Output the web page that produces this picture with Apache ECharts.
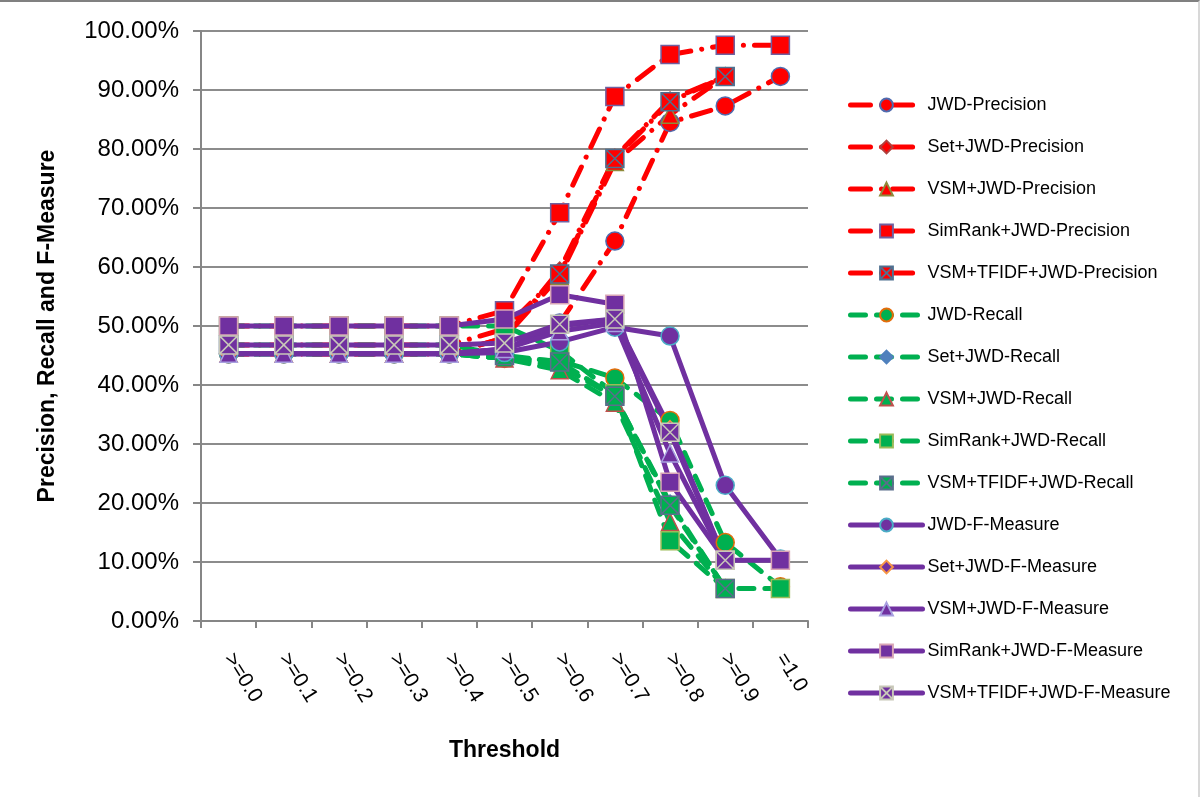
<!DOCTYPE html>
<html><head><meta charset="utf-8">
<script src="https://cdn.jsdelivr.net/npm/echarts@6/dist/echarts.min.js"></script>
<style>
html,body{margin:0;padding:0;background:#fff;}
#c{width:1200px;height:797px;box-sizing:border-box;border-top:2px solid #808080;border-right:2px solid #d8d8d8;}
</style></head>
<body><div id="c"></div>
<script>
var categories = ['>=0.0','>=0.1','>=0.2','>=0.3','>=0.4','>=0.5','>=0.6','>=0.7','>=0.8','>=0.9','=1.0'];
var yTicks = [0,10,20,30,40,50,60,70,80,90,100];

var jwdPrecision     = [45.3,45.3,45.3,45.3,45.3,46.0,50.5,64.4,84.5,87.3,92.3];
var setPrecision     = [45.3,45.3,45.3,45.3,45.3,48.0,59.5,78.6,88.3,92.3,null];
var vsmPrecision     = [45.3,45.3,45.3,45.3,45.3,48.0,58.5,77.8,85.8,92.3,null];
var simrankPrecision = [50.0,50.0,50.0,50.0,50.0,52.6,69.2,88.9,96.0,97.6,97.6];
var tfidfPrecision   = [46.8,46.8,46.8,46.8,46.8,49.5,58.8,78.4,88.0,92.3,null];

var jwdRecall     = [45.3,45.3,45.3,45.3,45.3,44.5,44.1,41.2,34.0,13.3,5.8];
var setRecall     = [45.3,45.3,45.3,45.3,45.3,44.5,43.3,38.0,20.0,5.5,null];
var vsmRecall     = [45.3,45.3,45.3,45.3,45.3,44.5,42.5,37.0,16.8,5.5,null];
var simrankRecall = [50.0,50.0,50.0,50.0,50.0,50.0,45.8,38.5,13.6,5.5,5.5];
var tfidfRecall   = [46.8,46.8,46.8,46.8,46.8,45.0,43.9,38.1,19.6,5.5,null];

var jwdF     = [45.3,45.3,45.3,45.3,45.3,45.5,47.3,49.8,48.3,23.0,10.5];
var setF     = [45.3,45.3,45.3,45.3,45.3,46.1,50.0,51.2,32.6,10.3,null];
var vsmF     = [45.3,45.3,45.3,45.3,45.3,46.1,49.1,50.5,28.4,10.3,null];
var simrankF = [50.0,50.0,50.0,50.0,50.0,51.2,55.3,53.7,23.5,10.3,10.3];
var tfidfF   = [46.8,46.8,46.8,46.8,46.8,47.1,50.3,51.2,32.0,10.3,null];

var FONT = '"Liberation Sans", Arial, sans-serif';
var RED = '#FF0000', GREEN = '#00B050', PURPLE = '#7030A0';
var XSYM = 'path://M0,0 L10,0 L10,10 L0,10 Z M0,0 L10,10 M10,0 L0,10';

function mk(name, data, color, dash, symbol, fill, border, size) {
  return {
    name: name, type: 'line', data: data,
    symbol: symbol, symbolSize: size || 18,
    lineStyle: {color: color, width: 5, type: dash, cap: 'round', join: 'round'},
    itemStyle: {color: fill, borderColor: border, borderWidth: 1.5},
    emphasis: {disabled: true}
  };
}
var DASHDOT = [20, 11, 0.1, 11];
var DASH = [15, 11];

var series = [
  mk('JWD-Precision', jwdPrecision, RED, DASHDOT, 'circle', RED, '#4F6BAF'),
  mk('Set+JWD-Precision', setPrecision, RED, DASHDOT, 'diamond', RED, '#B0403D', 16),
  mk('VSM+JWD-Precision', vsmPrecision, RED, DASHDOT, 'triangle', RED, '#8F8A3A', 17),
  mk('SimRank+JWD-Precision', simrankPrecision, RED, DASHDOT, 'rect', RED, '#7060A0'),
  mk('VSM+TFIDF+JWD-Precision', tfidfPrecision, RED, DASHDOT, XSYM, RED, '#4F7090'),
  mk('JWD-Recall', jwdRecall, GREEN, DASH, 'circle', GREEN, '#E46C0A'),
  mk('Set+JWD-Recall', setRecall, GREEN, DASH, 'diamond', '#4F81BD', '#4F81BD', 16),
  mk('VSM+JWD-Recall', vsmRecall, GREEN, DASH, 'triangle', GREEN, '#C0504D', 17),
  mk('SimRank+JWD-Recall', simrankRecall, GREEN, DASH, 'rect', GREEN, '#9BBB59'),
  mk('VSM+TFIDF+JWD-Recall', tfidfRecall, GREEN, DASH, XSYM, GREEN, '#5A6E8C'),
  mk('JWD-F-Measure', jwdF, PURPLE, 'solid', 'circle', PURPLE, '#4BACC6'),
  mk('Set+JWD-F-Measure', setF, PURPLE, 'solid', 'diamond', PURPLE, '#F79646', 16),
  mk('VSM+JWD-F-Measure', vsmF, PURPLE, 'solid', 'triangle', PURPLE, '#A8A0E0', 17),
  mk('SimRank+JWD-F-Measure', simrankF, PURPLE, 'solid', 'rect', PURPLE, '#D9A5B5'),
  mk('VSM+TFIDF+JWD-F-Measure', tfidfF, PURPLE, 'solid', XSYM, PURPLE, '#C8C8B8')
];

var chart = echarts.init(document.getElementById('c'), null, {renderer: 'canvas'});
chart.setOption({
  animation: false,
  backgroundColor: '#fff',
  grid: {left: 201, right: 390, top: 29, bottom: 176},
  legend: {
    orient: 'vertical', left: 843, top: 88,
    itemWidth: 72, itemHeight: 16, itemGap: 22,
    lineStyle: {width: 5},
    textStyle: {fontFamily: FONT, fontSize: 18, color: '#000', lineHeight: 20},
    data: series.map(function (s) { return s.name; })
  },
  xAxis: {
    type: 'category', data: categories, boundaryGap: true,
    name: 'Threshold', nameLocation: 'middle', nameGap: 118,
    nameTextStyle: {fontFamily: FONT, fontSize: 23, fontWeight: 'bold', color: '#000'},
    axisLine: {lineStyle: {color: '#868686', width: 2}},
    axisTick: {show: true, length: 7, alignWithLabel: false, lineStyle: {color: '#868686', width: 2}},
    axisLabel: {rotate: -58, margin: 34, fontFamily: FONT, fontSize: 21, color: '#000', interval: 0}
  },
  yAxis: {
    type: 'value', min: yTicks[0], max: yTicks[yTicks.length - 1], interval: 10,
    name: 'Precision, Recall and F-Measure', nameLocation: 'middle', nameGap: 142,
    nameTextStyle: {fontFamily: FONT, fontSize: 23, fontWeight: 'bold', color: '#000'},
    axisLine: {show: true, lineStyle: {color: '#868686', width: 2}},
    axisTick: {show: true, length: 8, lineStyle: {color: '#868686', width: 2}},
    splitLine: {show: true, lineStyle: {color: '#8C8C8C', width: 2}},
    axisLabel: {margin: 22, fontFamily: FONT, fontSize: 24, color: '#000',
      formatter: function (v) { return v.toFixed(2) + '%'; }}
  },
  series: series
});
</script></body></html>
